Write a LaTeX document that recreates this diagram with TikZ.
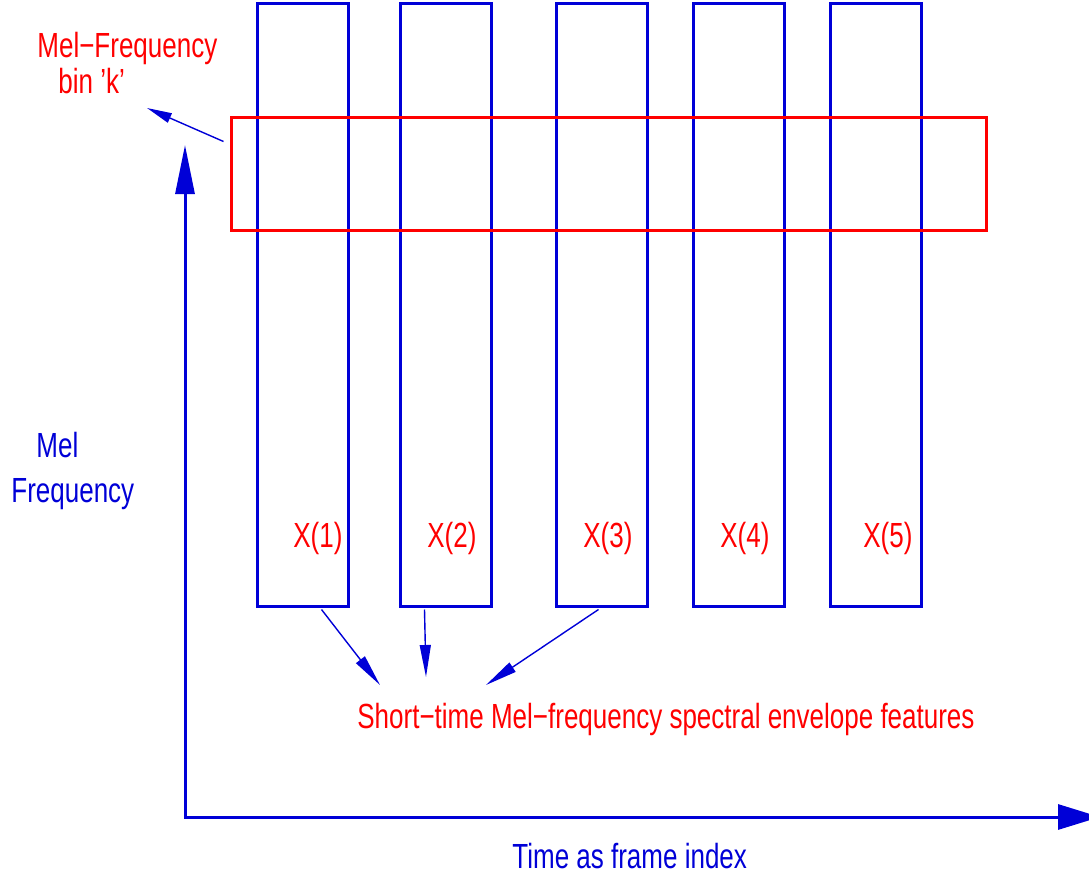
\documentclass[tikz,border=0pt]{standalone}
\usepackage{fontspec}
\setmainfont{Liberation Sans}[FakeStretch=0.745]
\usetikzlibrary{arrows.meta,calc}
\definecolor{figblue}{RGB}{0,0,215}
\definecolor{figred}{RGB}{255,0,0}
\begin{document}
\begin{tikzpicture}[x=0.5pt,y=-0.5pt,
  lbl/.style={inner sep=0pt, anchor=base west, font=\fontsize{17.45pt}{20pt}\selectfont},
  frame/.style={draw=figblue, line width=1.5pt, minimum width=45.5pt,
    minimum height=301.5pt, inner sep=0pt},
  band/.style={draw=figred, line width=1.5pt, minimum width=377.5pt,
    minimum height=56.5pt, inner sep=0pt},
  pointer/.style={draw=figblue, line width=0.7pt,
    -{Triangle[length=16pt,width=5.5pt]}},
  axis/.style={draw=figblue, line width=1.5pt}]
\useasboundingbox (0,0) rectangle (1089,878);

% frames of the spectrogram, one per time index
\node[frame] (f1) at (302.5,304.5) {};
\node[frame] (f2) at (445.5,304.5) {};
\node[frame] (f3) at (601.5,304.5) {};
\node[frame] (f4) at (738.5,304.5) {};
\node[frame] (f5) at (875.5,304.5) {};

% one mel-frequency bin across all frames
\node[band] (bin) at (608.5,173.5) {};

\node[lbl, text=figred] (x1) at (293,547) {X(1)};
\node[lbl, text=figred] (x2) at (427,547) {X(2)};
\node[lbl, text=figred] (x3) at (583,547) {X(3)};
\node[lbl, text=figred] (x4) at (720,547) {X(4)};
\node[lbl, text=figred] (x5) at (863,547) {X(5)};

% bin label and its pointer
\node[lbl, text=figred] (binA) at (37,57) {Mel−Frequency};
\node[lbl, text=figred] (binB) at (58,93) {bin ’k’};
\coordinate (bintip) at (147,108);
\draw[draw=figblue, line width=0.7pt, -{Triangle[length=12.5pt,width=5pt]}]
  ($(bin.north west)+(-6,26)$) -- (bintip);

% feature caption and the arrows into it
\node[lbl, text=figred] (feat) at (357,728)
  {Short−time Mel−frequency spectral envelope features};
\coordinate (t1) at (380,685);
\coordinate (t2) at (426,677);
\coordinate (t3) at (486,685);
\draw[pointer] ($(f1.south west)+(66,2)$) -- (t1);
\draw[pointer] ($(f2.south west)+(26,2)$) -- (t2);
\draw[pointer] ($(f3.south west)+(44,2)$) -- (t3);

% axes
\coordinate (o) at (185,817);
\coordinate (ytip) at (185,145);
\coordinate (xtip) at (1100,817);
\draw[axis, {Triangle[length=24.5pt,width=9.5pt]}-{Triangle[length=21pt,width=12.5pt]}]
  (ytip) -- (o) -- (xtip);

\node[lbl, text=figblue] (ylabA) at (36,457) {Mel};
\node[lbl, text=figblue] (ylabB) at (11,502) {Frequency};
\node[lbl, text=figblue] (xlab) at (512,868) {Time as frame index};
\end{tikzpicture}
\end{document}
